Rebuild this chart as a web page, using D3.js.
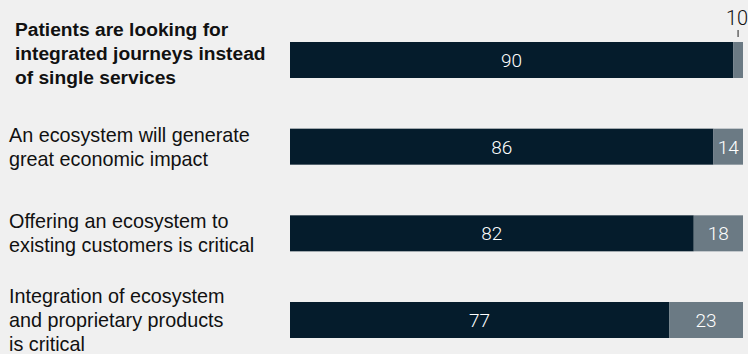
<!DOCTYPE html>
<html>
<head>
<meta charset="utf-8">
<script src="https://cdn.jsdelivr.net/npm/d3@7"></script>
<style>
  html, body { margin: 0; padding: 0; background: #f0f0f0; }
  svg { display: block; }
  .label { font-family: "Liberation Sans", Arial, sans-serif; font-size: 19.8px; fill: #111; }
  .label.bold { font-weight: bold; font-size: 19.2px; }
  .val { font-family: "Roboto", "Liberation Sans", sans-serif; font-weight: 300; font-size: 19px; }
</style>
</head>
<body>
<svg id="chart" width="748" height="354"></svg>
<script>
// Survey statements, one per row
const categories = [
  ["Patients are looking for", "integrated journeys instead", "of single services"],
  ["An ecosystem will generate", "great economic impact"],
  ["Offering an ecosystem to", "existing customers is critical"],
  ["Integration of ecosystem", "and proprietary products", "is critical"]
];
// Share agreeing (dark) and not agreeing (gray), %
const agree = [90, 86, 82, 77];
const disagree = [10, 14, 18, 23];
// Highlighted statement (bold label)
const highlight = [true, false, false, false];

const svg = d3.select("#chart");

const dark = "#051c2c", gray = "#6b7a84";

const x = d3.scaleLinear().domain([0, 92]).range([290, 743]).clamp(true);
const y = d3.scaleBand().domain(d3.range(categories.length)).range([42, 338]).paddingInner(0.5846).paddingOuter(0);
const bh = y.bandwidth();

const rows = svg.selectAll("g.row")
  .data(categories.map((c, i) => ({ lines: c, a: agree[i], d: disagree[i], bold: highlight[i], i })))
  .join("g").attr("class", "row");

// Dark segment
rows.append("rect")
  .attr("x", d => x(0))
  .attr("y", d => y(d.i))
  .attr("width", d => x(d.a) - x(0))
  .attr("height", bh)
  .attr("fill", dark);

// Gray segment
rows.append("rect")
  .attr("x", d => x(d.a))
  .attr("y", d => y(d.i))
  .attr("width", d => x(d.a + d.d) - x(d.a))
  .attr("height", bh)
  .attr("fill", gray);

// Value inside dark segment
rows.append("text")
  .attr("class", "val")
  .attr("x", d => (x(0) + x(d.a)) / 2)
  .attr("y", d => y(d.i) + bh / 2 + 7)
  .attr("text-anchor", "middle")
  .attr("fill", "#ffffff")
  .text(d => d.a);

// Value for gray segment: inside when wide enough, above with a tick otherwise
rows.each(function(d) {
  const g = d3.select(this);
  const x0 = x(d.a), x1 = x(d.a + d.d);
  const cx = (x0 + x1) / 2;
  if (x1 - x0 >= 24) {
    g.append("text")
      .attr("class", "val")
      .attr("x", cx)
      .attr("y", y(d.i) + bh / 2 + 7)
      .attr("text-anchor", "middle")
      .attr("fill", "#ffffff")
      .text(d.d);
  } else {
    g.append("line")
      .attr("x1", cx).attr("x2", cx)
      .attr("y1", y(d.i) - 12).attr("y2", y(d.i) - 5)
      .attr("stroke", "#222").attr("stroke-width", 1);
    g.append("text")
      .attr("class", "val")
      .attr("x", cx - 1)
      .attr("y", y(d.i) - 17)
      .attr("text-anchor", "middle")
      .attr("fill", "#111")
      .style("font-size", "20px")
      .text(d.d);
  }
});

// Statement labels, vertically centered on the bar
const lineH = 24, capH = 14;
rows.append("text")
  .attr("class", d => "label" + (d.bold ? " bold" : ""))
  .attr("x", d => d.bold ? 15 : 9)
  .each(function(d) {
    const n = d.lines.length;
    const blockH = capH + (n - 1) * lineH;
    const cy = y(d.i) + bh / 2 - (d.bold ? 7 : 0);
    const first = cy - blockH / 2 + capH;
    d3.select(this).selectAll("tspan")
      .data(d.lines)
      .join("tspan")
      .attr("x", d.bold ? 15 : 9)
      .attr("y", (t, k) => first + k * lineH)
      .text(t => t);
  });
</script>
</body>
</html>
